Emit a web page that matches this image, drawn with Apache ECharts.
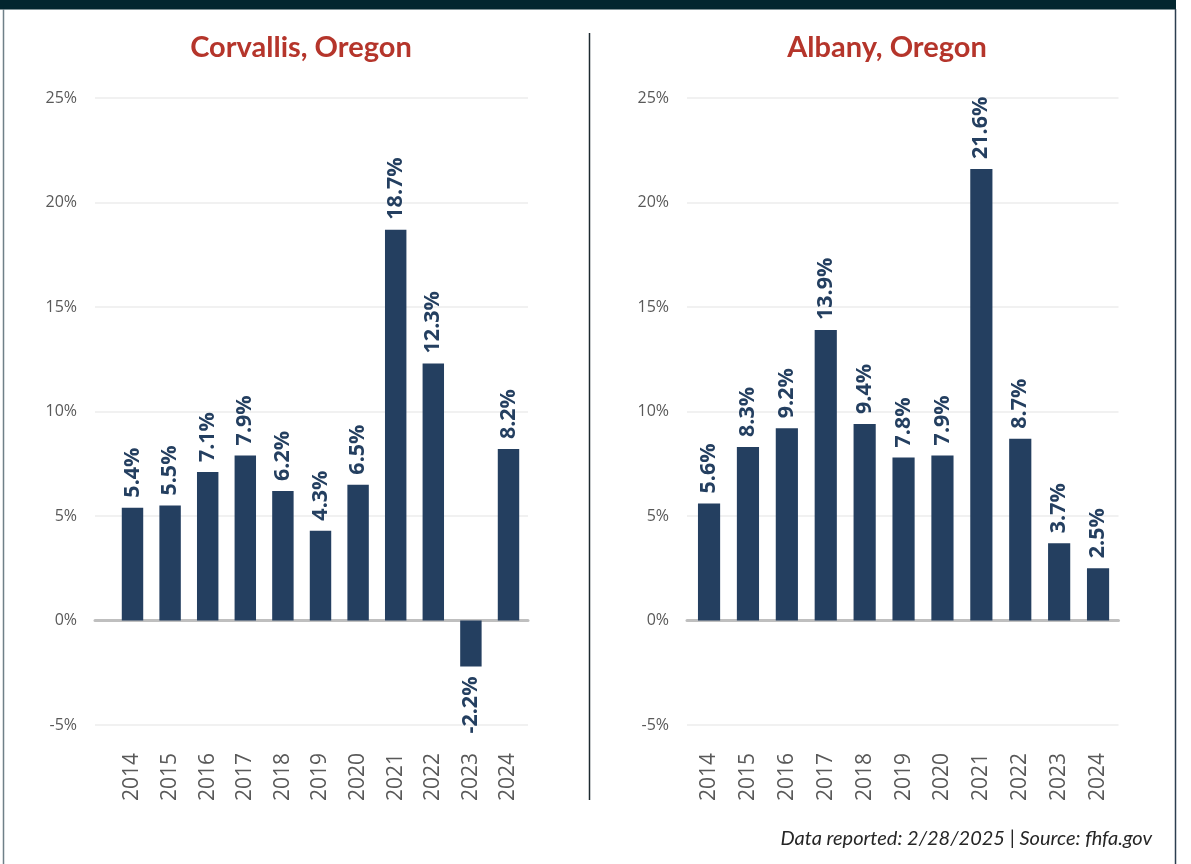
<!DOCTYPE html>
<html>
<head>
<meta charset="utf-8">
<script src="https://cdn.jsdelivr.net/npm/echarts@6/dist/echarts.min.js"></script>
<style>
  html, body { margin: 0; padding: 0; background: #fff; }
  #chart { width: 1191px; height: 864px; }
</style>
</head>
<body>
<div id="chart"></div>
<script>
// data
const years = ['2014', '2015', '2016', '2017', '2018', '2019', '2020', '2021', '2022', '2023', '2024'];
const corvallis = [5.4, 5.5, 7.1, 7.9, 6.2, 4.3, 6.5, 18.7, 12.3, -2.2, 8.2];
const albany = [5.6, 8.3, 9.2, 13.9, 9.4, 7.8, 7.9, 21.6, 8.7, 3.7, 2.5];
const yTicks = { min: -5, max: 25, interval: 5 };

const barColor = '#243f60';
const gray = '#595959';

const chart = echarts.init(document.getElementById('chart'));

function barData(values) {
  return values.map(v => {
    if (v < 0) {
      return {
        value: v,
        label: { position: 'bottom', align: 'right' }
      };
    }
    return v;
  });
}

// background grid: gridlines, y labels, zero line; bar grid: bars, x labels
const grids = [
  { left: 95, top: 98, width: 433, height: 627 },
  { left: 113.7, top: 98, width: 413.6, height: 627 },
  { left: 687, top: 98, width: 431.5, height: 627 },
  { left: 689.6, top: 98, width: 427.9, height: 627 }
];

const xAxes = [];
const yAxes = [];
const series = [];

[corvallis, albany].forEach((vals, k) => {
  const bg = k * 2, fg = k * 2 + 1;
  xAxes.push({
    gridIndex: bg,
    type: 'category',
    data: [''],
    axisLine: { show: true, onZero: true, lineStyle: { color: '#bfbfbf', width: 3 } },
    axisTick: { show: false },
    axisLabel: { show: false }
  });
  xAxes.push({
    gridIndex: fg,
    type: 'category',
    data: years,
    position: 'bottom',
    axisLine: { show: false, onZero: false },
    axisTick: { show: false },
    axisLabel: {
      rotate: 90,
      margin: 28,
      color: gray,
      fontSize: 21,
      fontFamily: 'Open Sans'
    }
  });
  yAxes.push({
    gridIndex: bg,
    type: 'value',
    min: yTicks.min,
    max: yTicks.max,
    interval: yTicks.interval,
    axisLine: { show: false },
    axisTick: { show: false },
    axisLabel: {
      formatter: '{value}%',
      color: gray,
      fontSize: 16,
      fontFamily: 'Open Sans',
      margin: 18
    },
    splitLine: { lineStyle: { color: '#ececec', width: 1.5 } }
  });
  yAxes.push({
    gridIndex: fg,
    type: 'value',
    min: yTicks.min,
    max: yTicks.max,
    interval: yTicks.interval,
    show: false,
    splitLine: { show: false }
  });
  series.push({
    type: 'bar',
    xAxisIndex: fg,
    yAxisIndex: fg,
    data: barData(vals),
    barCategoryGap: '43%',
    itemStyle: { color: barColor },
    label: {
      show: true,
      position: 'top',
      rotate: 90,
      align: 'left',
      verticalAlign: 'middle',
      distance: 10,
      color: barColor,
      fontSize: 21.5,
      fontWeight: 'bold',
      fontFamily: 'Open Sans',
      formatter: p => p.value.toFixed(1) + '%'
    },
    animation: false
  });
});

const option = {
  animation: false,
  title: [
    {
      text: 'Corvallis, Oregon',
      left: 296, top: 28, textAlign: 'center',
      textStyle: { color: '#b5352b', fontSize: 29, fontWeight: 'bold', fontFamily: 'Lato' }
    },
    {
      text: 'Albany, Oregon',
      left: 882, top: 28, textAlign: 'center',
      textStyle: { color: '#b5352b', fontSize: 29, fontWeight: 'bold', fontFamily: 'Lato' }
    }
  ],
  grid: grids,
  xAxis: xAxes,
  yAxis: yAxes,
  series: series,
  graphic: [
    { type: 'rect', shape: { x: 0, y: 0, width: 1176, height: 9.5 }, style: { fill: '#03262f' } },
    { type: 'line', shape: { x1: 3.5, y1: 9, x2: 3.5, y2: 864 }, style: { stroke: '#6f8088', lineWidth: 1.5 } },
    { type: 'line', shape: { x1: 1175.5, y1: 9, x2: 1175.5, y2: 864 }, style: { stroke: '#2c3f50', lineWidth: 1.5 } },
    { type: 'line', shape: { x1: 589.5, y1: 33, x2: 589.5, y2: 800 }, style: { stroke: '#1d2a30', lineWidth: 1.5 } },
    {
      type: 'text', right: 1191 - 1152, top: 829,
      style: {
        text: 'Data reported: 2/28/2025 | Source: fhfa.gov',
        fill: '#262626',
        font: 'italic 20px Lato'
      }
    }
  ]
};

chart.setOption(option);
</script>
</body>
</html>
